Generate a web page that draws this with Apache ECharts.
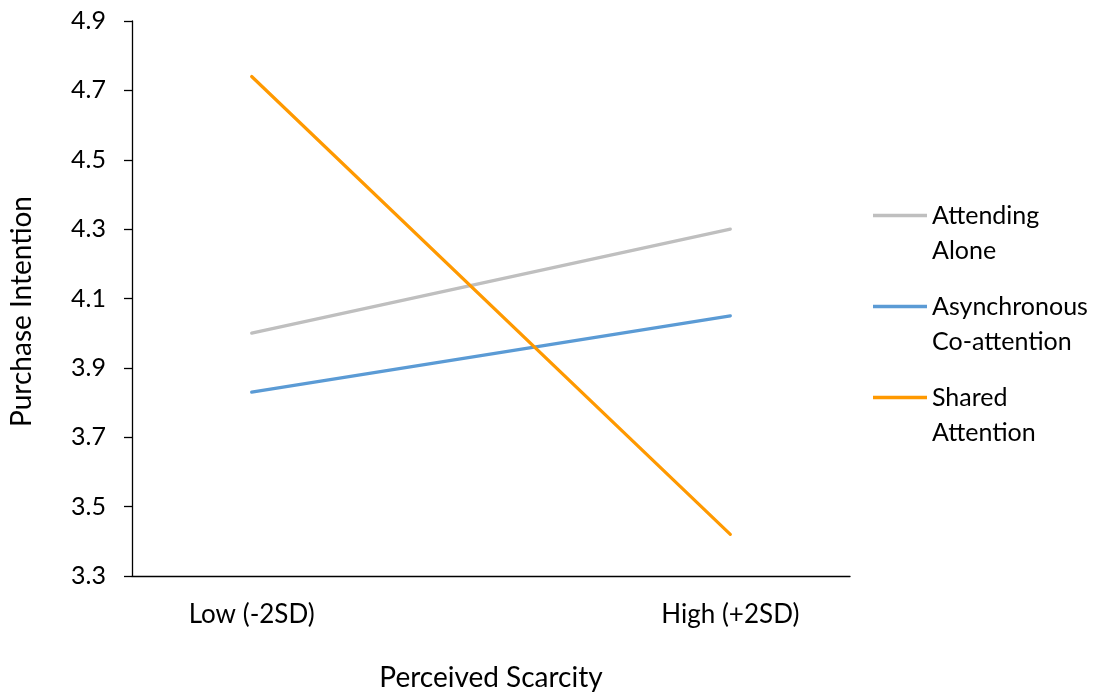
<!DOCTYPE html>
<html>
<head>
<meta charset="utf-8">
<script src="https://cdn.jsdelivr.net/npm/echarts@6/dist/echarts.min.js"></script>
<style>
html,body{margin:0;padding:0;background:#fff;}
#chart{width:1099px;height:698px;}
</style>
</head>
<body>
<div id="chart"></div>
<script>
var categories = ['Low (-2SD)', 'High (+2SD)'];
var seriesNames = ['Attending\nAlone', 'Asynchronous\nCo-attention', 'Shared\nAttention'];
var attendingAlone = [4.00, 4.30];
var asynchronousCoAttention = [3.83, 4.05];
var sharedAttention = [4.74, 3.42];
var yTicks = [3.3, 3.5, 3.7, 3.9, 4.1, 4.3, 4.5, 4.7, 4.9];
var colors = ['#BFBFBF', '#5B9BD5', '#FF9900'];

var FONT = 'Lato';
var seriesValues = [attendingAlone, asynchronousCoAttention, sharedAttention];
function toPoints(vals) { return vals.map(function (v, i) { return [i, v]; }); }

var chart = echarts.init(document.getElementById('chart'), null, {renderer: 'canvas'});
chart.setOption({
  animation: false,
  backgroundColor: '#fff',
  textStyle: {fontFamily: FONT, color: '#000'},
  grid: {left: 130, right: 249, top: 21, bottom: 122, containLabel: false},
  legend: {
    orient: 'vertical',
    left: 873,
    top: 163,
    padding: 0,
    icon: 'rect',
    itemWidth: 54,
    itemHeight: 3.5,
    itemGap: -14,
    data: seriesNames,
    formatter: function (name) { return ' \n' + name; },
    textStyle: {fontFamily: FONT, fontSize: 25, color: '#000', lineHeight: 35}
  },
  xAxis: {
    type: 'value',
    min: -0.25,
    max: 1.25,
    name: 'Perceived Scarcity',
    nameLocation: 'middle',
    nameGap: 88,
    nameTextStyle: {fontFamily: FONT, fontSize: 28, color: '#000'},
    axisLine: {show: true, onZero: false, lineStyle: {color: '#000', width: 1.3}},
    axisTick: {show: false},
    splitLine: {show: false},
    axisLabel: {
      customValues: [0, 1],
      margin: 26,
      fontFamily: FONT, fontSize: 26, color: '#000',
      formatter: function (v) { return categories[Math.round(v)] || ''; }
    }
  },
  yAxis: {
    type: 'value',
    min: 3.3,
    max: 4.9,
    name: 'Purchase Intention',
    nameLocation: 'middle',
    nameGap: 96,
    nameTextStyle: {fontFamily: FONT, fontSize: 28, color: '#000', padding: [0, 26, 0, 0]},
    axisLine: {show: true, onZero: false, lineStyle: {color: '#000', width: 1.3}},
    axisTick: {show: true, length: 8, customValues: yTicks, lineStyle: {color: '#000', width: 1.3}},
    splitLine: {show: false},
    axisLabel: {
      customValues: yTicks,
      margin: 26,
      fontFamily: FONT, fontSize: 25, color: '#000',
      formatter: function (v) { return v.toFixed(1); }
    }
  },
  series: seriesValues.map(function (vals, i) {
    return {
      name: seriesNames[i],
      type: 'line',
      data: toPoints(vals),
      symbol: 'none',
      showSymbol: false,
      lineStyle: {color: colors[i], width: 3.2, cap: 'round'},
      itemStyle: {color: colors[i]}
    };
  })
});
</script>
</body>
</html>
